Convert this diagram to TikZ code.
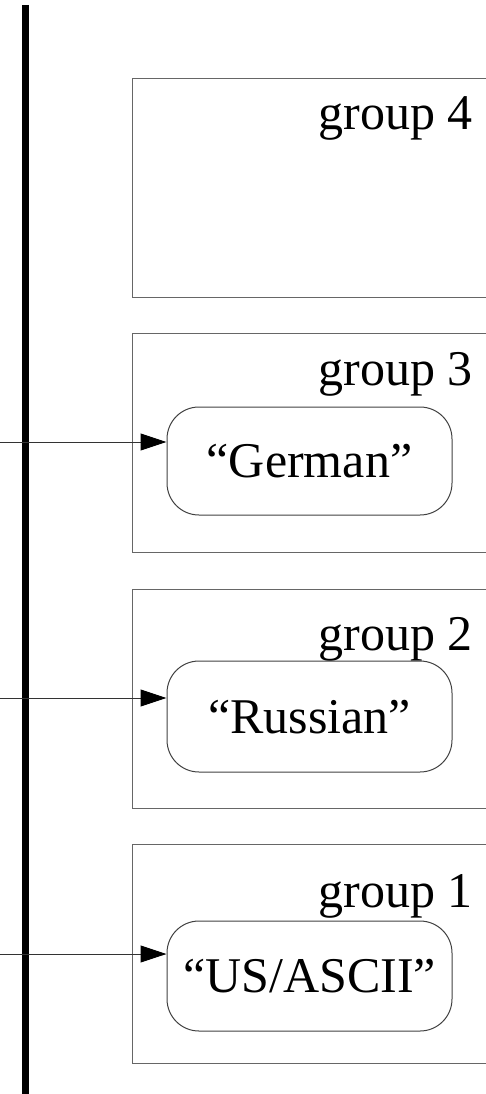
\documentclass[tikz,border=0pt]{standalone}
\usepackage{fontspec}
\setmainfont{Liberation Serif}
\usetikzlibrary{arrows.meta}
\tikzset{
  groupbox/.style={draw=black!60, line width=1pt, anchor=north west, inner sep=0pt,
    minimum width=380pt, minimum height=219pt},
  grouplabel/.style={anchor=base east, inner sep=0pt, font=\fontsize{50}{58}\selectfont},
  valbox/.style={draw=black!75, line width=1pt, rounded corners=32pt, inner sep=0pt,
    minimum width=285pt, minimum height=110pt, text height=33pt, text depth=0pt,
    font=\fontsize{50}{58}\selectfont},
  bar/.style={line width=7pt},
  conn/.style={draw=black!80, line width=1pt, -{Triangle[length=26pt,width=17pt,color=black,fill=black]}}
}
\begin{document}
\begin{tikzpicture}[x=1pt,y=1pt]
\useasboundingbox (0,0) rectangle (485,-1094);
\coordinate (bt) at (25.5,-5);
\coordinate (bb) at (25.5,-1094);
\draw[bar] (bt) -- (bb);

\node[groupbox] (g4) at (132,-78) {};
\node[groupbox] (g3) at (132,-333) {};
\node[groupbox] (g2) at (132,-589) {};
\node[groupbox] (g1) at (132,-844) {};

\node[grouplabel] (l4) at (473,-130) {group 4};
\node[grouplabel] (l3) at (473,-385) {group 3};
\node[grouplabel] (l2) at (473,-650) {group 2};
\node[grouplabel] (l1) at (473,-907) {group 1};

\node[valbox, minimum height=108pt] (v3) at (309.5,-461) {“German”};
\node[valbox, minimum height=111pt] (v2) at (309.5,-716.5) {“Russian”};
\node[valbox] (v1) at (309.5,-976) {“US/ASCII”};

\coordinate (s3) at (0,-442);
\coordinate (s2) at (0,-698);
\coordinate (s1) at (0,-954);
\draw[conn] (s3) -- (s3 -| v3.west);
\draw[conn] (s2) -- (s2 -| v2.west);
\draw[conn] (s1) -- (s1 -| v1.west);
\end{tikzpicture}
\end{document}
